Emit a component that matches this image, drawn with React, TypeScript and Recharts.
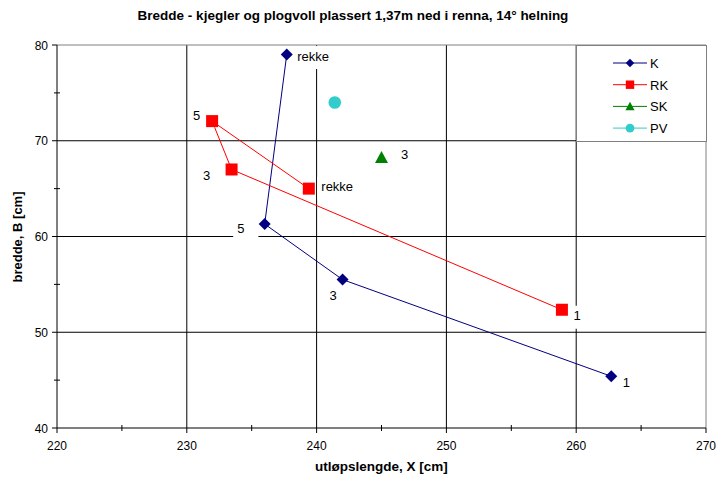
import React from "react";
import { ScatterChart, Scatter, XAxis, YAxis, ReferenceLine } from "recharts";

// utløpslengde X [cm] / bredde B [cm], points listed in the order they are joined
const kX = [237.7, 236.0, 242.0, 262.7];
const kY = [79.0, 61.3, 55.5, 45.4];
const kLabels = ["rekke", "5", "3", "1"];

const rkX = [239.4, 231.95, 233.45, 258.9];
const rkY = [65.0, 72.05, 67.0, 52.35];
const rkLabels = ["rekke", "5", "3", "1"];

const skX = [245.0];
const skY = [68.25];
const skLabels = ["3"];

const pvX = [241.4];
const pvY = [74.0];
const pvLabels = [""];

const seriesNames = ["K", "RK", "SK", "PV"];

const xTicks = [220, 225, 230, 235, 240, 245, 250, 255, 260, 265, 270];
const yTicks = [40, 45, 50, 55, 60, 65, 70, 75, 80];
const xGrid = [230, 240, 250, 260];
const yGrid = [50, 60, 70];

// label placement (text start / centre offset from the marker)
const kOffsets = [[10.5, 1.5], [-27.5, 4], [-13, 16], [11.5, 6]];
const rkOffsets = [[12.5, -2], [-19, -6], [-28.5, 6.5], [11.5, 6]];
const skOffsets = [[19.5, -3.5]];
const pvOffsets = [[0, 0]];

const FONT = '"Liberation Sans", Arial, sans-serif';
const COLORS = { K: "#000080", RK: "#FF0000", SK: "#008000", PV: "#33CCCC" };

const toRows = (xs: number[], ys: number[], labels: string[]) =>
  xs.map((x, i) => ({ x, y: ys[i], label: labels[i], idx: i }));

const kData = toRows(kX, kY, kLabels);
const rkData = toRows(rkX, rkY, rkLabels);
const skData = toRows(skX, skY, skLabels);
const pvData = toRows(pvX, pvY, pvLabels);

function marker(kind: string, cx: number, cy: number, color: string, s = 1) {
  if (kind === "diamond") {
    const h = 6 * s;
    return <polygon points={`${cx},${cy - h} ${cx + h},${cy} ${cx},${cy + h} ${cx - h},${cy}`} fill={color} />;
  }
  if (kind === "square") {
    const h = 6 * s;
    return <rect x={cx - h} y={cy - h} width={2 * h} height={2 * h} fill={color} />;
  }
  if (kind === "triangle") {
    const w = 6.5 * s;
    return <polygon points={`${cx},${cy - 6.5 * s} ${cx + w},${cy + 5.5 * s} ${cx - w},${cy + 5.5 * s}`} fill={color} />;
  }
  return <circle cx={cx} cy={cy} r={6.3 * s} fill={color} />;
}

const makeShape = (kind: string, color: string, offsets: number[][]) => (props: any) => {
  const { cx, cy, payload } = props;
  const label: string = payload?.label ?? "";
  const off = offsets[payload?.idx ?? 0] || [0, 0];
  const tx = cx + off[0];
  const ty = cy + off[1];
  const tw = label.length * 7.2;
  return (
    <g>
      {label && (
        <g>
          <rect x={tx - 4} y={ty - 10} width={tw + 18} height={23} fill="#fff" />
          <text x={tx} y={ty + 4.5} fontSize={13} fontFamily={FONT} fill="#000">
            {label}
          </text>
        </g>
      )}
      {marker(kind, cx, cy, color)}
    </g>
  );
};

const XTick = (props: any) => {
  const { x, y, payload } = props;
  const v = payload.value;
  if (v % 10 !== 0) {
    return <line x1={x} x2={x} y1={y - 3} y2={y + 3} stroke="#000" />;
  }
  return (
    <g>
      <line x1={x} x2={x} y1={y} y2={y + 5} stroke="#000" />
      <text x={x} y={y + 22} textAnchor="middle" fontSize={12} fontFamily={FONT} fill="#000">
        {v}
      </text>
    </g>
  );
};

const YTick = (props: any) => {
  const { x, y, payload } = props;
  const v = payload.value;
  if (v % 10 !== 0) {
    return <line x1={x - 3} x2={x + 3} y1={y} y2={y} stroke="#000" />;
  }
  return (
    <g>
      <line x1={x - 5} x2={x} y1={y} y2={y} stroke="#000" />
      <text x={x - 9} y={y + 4.5} textAnchor="end" fontSize={12} fontFamily={FONT} fill="#000">
        {v}
      </text>
    </g>
  );
};

const legendKinds = ["diamond", "square", "triangle", "circle"];

function LegendBox() {
  return (
    <div
      style={{
        position: "absolute",
        left: 576,
        top: 45,
        width: 131,
        height: 97,
        boxSizing: "border-box",
        border: "1px solid #808080",
        background: "#fff",
      }}
    >
      <svg width={129} height={95} style={{ display: "block" }}>
        {seriesNames.map((name, i) => {
          const color = (COLORS as any)[name];
          const cy = 17 + i * 21.7;
          return (
            <g key={name}>
              <line x1={36} x2={70} y1={cy} y2={cy} stroke={color} strokeWidth={1} />
              {marker(legendKinds[i], 53, cy, color, 0.7)}
              <text x={73} y={cy + 5} fontSize={13} fontFamily={FONT} fill="#000">
                {name}
              </text>
            </g>
          );
        })}
      </svg>
    </div>
  );
}

export default function App() {
  return (
    <div style={{ position: "absolute", left: 0, top: 0, width: 716, height: 480, background: "#fff", fontFamily: FONT }}>
      <div
        style={{
          position: "absolute",
          left: 0,
          width: 706,
          top: 7,
          textAlign: "center",
          fontSize: 13.5,
          fontWeight: "bold",
          lineHeight: "18px",
        }}
      >
        Bredde - kjegler og plogvoll plassert 1,37m ned i renna, 14° helning
      </div>
      <ScatterChart width={716} height={480} margin={{ top: 45, right: 10, bottom: 0, left: 0 }}>
        <XAxis
          type="number"
          dataKey="x"
          domain={[220, 270]}
          ticks={xTicks}
          interval={0}
          height={52}
          tickSize={0}
          tickMargin={0}
          tickLine={false}
          tick={<XTick />}
          axisLine={{ stroke: "#000" }}
          allowDataOverflow
        />
        <YAxis
          type="number"
          dataKey="y"
          domain={[40, 80]}
          ticks={yTicks}
          interval={0}
          width={57}
          tickSize={0}
          tickMargin={0}
          tickLine={false}
          tick={<YTick />}
          axisLine={{ stroke: "#000" }}
          allowDataOverflow
        />
        {xGrid.map((v) => (
          <ReferenceLine key={"gx" + v} x={v} stroke="#000" strokeWidth={1} />
        ))}
        {yGrid.map((v) => (
          <ReferenceLine key={"gy" + v} y={v} stroke="#000" strokeWidth={1} />
        ))}
        <ReferenceLine y={80} stroke="#808080" strokeWidth={1} />
        <ReferenceLine x={270} stroke="#808080" strokeWidth={1} />
        <Scatter
          name={seriesNames[0]}
          data={kData}
          line={{ stroke: COLORS.K, strokeWidth: 1 }}
          lineType="joint"
          shape={makeShape("diamond", COLORS.K, kOffsets)}
          isAnimationActive={false}
        />
        <Scatter
          name={seriesNames[1]}
          data={rkData}
          line={{ stroke: COLORS.RK, strokeWidth: 1 }}
          lineType="joint"
          shape={makeShape("square", COLORS.RK, rkOffsets)}
          isAnimationActive={false}
        />
        <Scatter
          name={seriesNames[2]}
          data={skData}
          shape={makeShape("triangle", COLORS.SK, skOffsets)}
          isAnimationActive={false}
        />
        <Scatter
          name={seriesNames[3]}
          data={pvData}
          shape={makeShape("circle", COLORS.PV, pvOffsets)}
          isAnimationActive={false}
        />
      </ScatterChart>
      <LegendBox />
      <div
        style={{
          position: "absolute",
          left: 57,
          width: 649,
          top: 458,
          textAlign: "center",
          fontSize: 13.5,
          fontWeight: "bold",
          lineHeight: "18px",
        }}
      >
        utløpslengde, X [cm]
      </div>
      <div
        style={{
          position: "absolute",
          left: 18 - 60,
          top: 237 - 9,
          width: 120,
          height: 18,
          lineHeight: "18px",
          textAlign: "center",
          fontSize: 13,
          fontWeight: "bold",
          transform: "rotate(-90deg)",
        }}
      >
        bredde, B [cm]
      </div>
    </div>
  );
}
